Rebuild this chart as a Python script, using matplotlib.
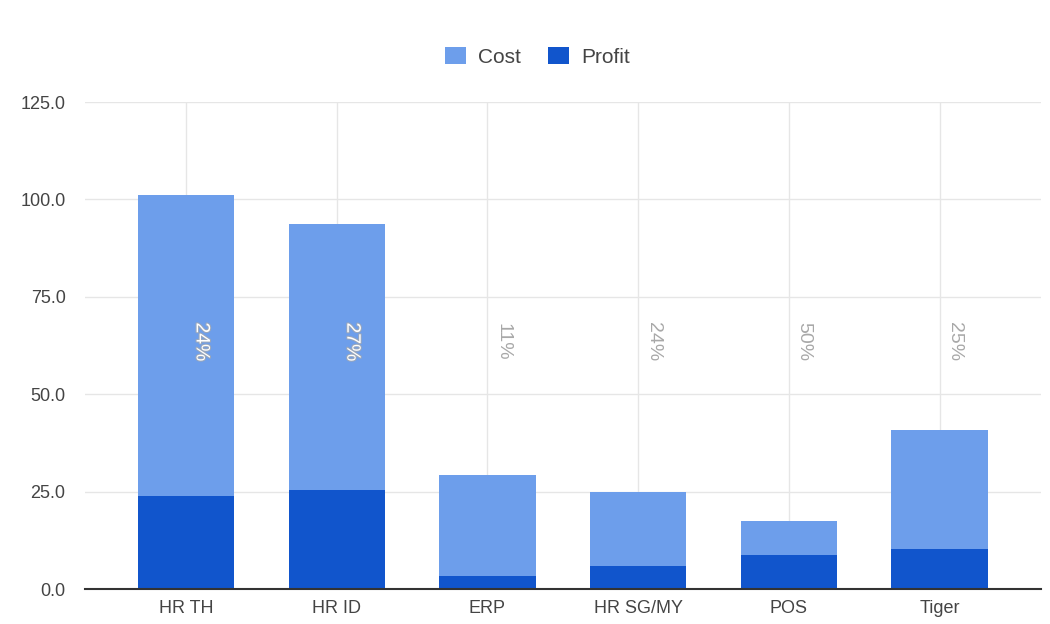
import matplotlib
matplotlib.use("Agg")
import matplotlib.pyplot as plt
import matplotlib.patheffects as pe
import numpy as np

categories = ["HR TH", "HR ID", "ERP", "HR SG/MY", "POS", "Tiger"]
profit = [24.0, 25.3, 3.3, 6.0, 8.7, 10.2]
cost = [77.1, 68.4, 26.0, 18.8, 8.8, 30.6]
y_ticks = [0, 25, 50, 75, 100, 125]

COST_COLOR = "#6d9eeb"
PROFIT_COLOR = "#1155cc"
TEXT_COLOR = "#444444"

plt.rcParams["font.family"] = ["Liberation Sans", "DejaVu Sans"]

fig = plt.figure(figsize=(10.5, 6.24), dpi=100)
ax = fig.add_axes([0.081, 0.056, 0.910, 0.7805])

x = np.arange(len(categories))
width = 0.64
ax.bar(x, profit, width, color=PROFIT_COLOR, label="Profit", zorder=3)
ax.bar(x, cost, width, bottom=profit, color=COST_COLOR, label="Cost", zorder=3)

# share of profit in each total, written vertically across the bars
label_y = 63.4
for i, (p, c) in enumerate(zip(profit, cost)):
    total = p + c
    share = f"{round(100 * p / total):.0f}%"
    if total > label_y + 8:
        ax.text(i + 0.1, label_y, share, rotation=-90, ha="center", va="center",
                fontsize=14, color="white", zorder=4,
                path_effects=[pe.withStroke(linewidth=1.5, foreground="#9aa7bb")])
    else:
        ax.text(i + 0.1, label_y, share, rotation=-90, ha="center", va="center",
                fontsize=14, color="#a8a8a8", zorder=4)

ax.set_xlim(-0.67, 5.67)
ax.set_ylim(0, 125)
ax.set_yticks(y_ticks)
ax.set_yticklabels([f"{v:.1f}" for v in y_ticks])
ax.set_xticks(x)
ax.set_xticklabels(categories)

ax.grid(True, axis="both", color="#e6e6e6", linewidth=1, zorder=0)
for side in ["top", "right", "left"]:
    ax.spines[side].set_visible(False)
ax.spines["bottom"].set_color("#333333")
ax.spines["bottom"].set_linewidth(1.5)
ax.spines["bottom"].set_zorder(5)
ax.tick_params(axis="both", length=0, labelsize=13, colors=TEXT_COLOR)
ax.tick_params(axis="y", pad=14)
ax.tick_params(axis="x", pad=8)

handles, labels = ax.get_legend_handles_labels()
order = [1, 0]
fig.legend([handles[k] for k in order], [labels[k] for k in order],
           loc="center", bbox_to_anchor=(0.512, 0.909), ncol=2, frameon=False,
           fontsize=15, handlelength=1.0, handleheight=0.9, columnspacing=1.3,
           handletextpad=0.6, labelcolor=TEXT_COLOR)

fig.savefig("out.png", dpi=100, facecolor="white")
